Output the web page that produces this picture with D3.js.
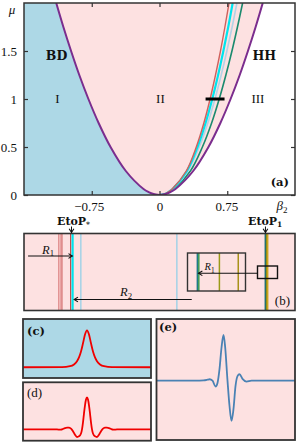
<!DOCTYPE html>
<html><head><meta charset="utf-8">
<script src="https://cdn.jsdelivr.net/npm/d3@7"></script>
<style>
body{margin:0;background:#fff}
svg{display:block}
text{font-family:"Liberation Serif","Times New Roman",serif;fill:#111}
.bold{font-family:"DejaVu Serif",serif;font-weight:bold}
</style>
</head><body>
<svg id="fig" width="299" height="443"></svg>
<script>
// ---------------- DATA ----------------
// panel (a): boundary curves, beta2 value (magnitude) at each mu level
const muLevels   = [0, 0.01, 0.03, 0.0625, 0.25, 0.5, 0.75, 1, 1.25, 1.5, 1.75, 2];
const betaPurple = [0, 0.066, 0.120, 0.177, 0.373, 0.542, 0.674, 0.787, 0.888, 0.979, 1.064, 1.143];
const betaRed    = [0, 0.055, 0.095, 0.140, 0.296, 0.407, 0.491, 0.560, 0.620, 0.675, 0.724, 0.770];
const betaCyan   = [0, 0.057, 0.098, 0.145, 0.304, 0.421, 0.510, 0.584, 0.649, 0.707, 0.761, 0.810];
const betaLBlue  = [0, 0.059, 0.102, 0.150, 0.315, 0.440, 0.535, 0.614, 0.683, 0.746, 0.804, 0.857];
const betaTeal   = [0, 0.062, 0.110, 0.162, 0.342, 0.475, 0.577, 0.661, 0.735, 0.802, 0.863, 0.920];
const barMu = 1, barBeta = [0.51, 0.72];
const xTicks = [-0.75, 0, 0.75];
const xTickLabels = ["\u22120.75", "0", "0.75"];
const yTicks = [0, 0.5, 1, 1.5];
const yTickLabels = ["0", "0.5", "1", "1.5"];
const regionLabels = [
  {t:"BD", b:-1.14, mu:1.41, bold:true},
  {t:"HH", b:1.16, mu:1.41, bold:true},
  {t:"I", b:-1.13, mu:0.96},
  {t:"II", b:0.01, mu:0.96},
  {t:"III", b:1.09, mu:0.96}
];
// panel (b): vertical lines (beta2 positions) and colours
const bLinesBeta  = [-1.114, -1.095, -1.080, -0.984, -0.962, -0.871, 0.192, 1.172, 1.186, 1.197];
const bLinesColor = ["#d46a6a", "#e8a0a0", "#c85050", "#c84848", "#00e4ec", "#a9d3e6", "#a9d3e6", "#1d6f72", "#8a8a14", "#c9a41c"];
const bLinesWidth = [1, 1, 1, 1.2, 2.2, 1.6, 1.6, 1.6, 1.4, 1.6];
const etoPStar = -0.974, etoP1 = 1.173;
const R1 = [-1.455, -0.965], R2 = [0.357, -0.945];
// inset: relative positions
const insetPos   = [0.17, 0.195, 0.55, 0.875];
const insetColor = ["#1d7a8a", "#3a9a50", "#9a9a18", "#a8921a"];
// panel (c)
const tauC = [-32,-12.5,-8.5,-6.5,-5,-4,-3,-2,-1,0,1,2,3,4,5,6.5,8.5,12.5,32];
const ampC = [0,0.004,0.028,0.077,0.163,0.266,0.425,0.648,0.887,1,0.887,0.648,0.425,0.266,0.163,0.077,0.028,0.004,0];
// panel (d)
const tauD = [-32,-18,-15,-13,-12,-11,-10,-9,-8,-7,-6,-5,-4,-3,-2.5,-2,-1.5,-1,-0.5,0,0.5,1,1.5,2,2.5,3,4,5,6,7,8,9,10,11,12,13,15,18,32];
const ampD = [0,0,-0.005,-0.01,0.01,0.04,0.055,0.05,0.02,-0.06,-0.17,-0.24,-0.22,-0.13,0,0.22,0.5,0.75,0.93,1,0.93,0.75,0.5,0.22,0,-0.13,-0.22,-0.24,-0.17,-0.06,0.02,0.05,0.055,0.04,0.01,-0.01,-0.005,0,0];
// panel (e)
const tauE = [-35.5,-16,-12,-10,-9,-7.5,-6,-5,-4,-3,-2,-1.2,0,1,2,3,4,5,6,7.5,9.5,12,16,33.75];
const ampE = [0,0,0.005,0.02,0.03,0,-0.13,-0.05,0.25,0.72,1.0,0.75,0.0,-0.55,-0.88,-0.62,-0.12,0.1,0.14,0.04,-0.02,0,0,0];

// ---------------- STYLE ----------------
const PINK = "#fde1e1", LBLUE = "#add8e6", PURPLE = "#7b2d8e", FRAME = "#333";

const svg = d3.select("#fig");
const defs = svg.append("defs");

// ---------------- PANEL (a) ----------------
const x = d3.scaleLinear().domain([-1.5, 1.5]).range([24, 295]);
const y = d3.scaleLinear().domain([0, 2]).range([195, 3]);
defs.append("clipPath").attr("id","clipA").append("rect")
  .attr("x",x(-1.5)).attr("y",y(2)).attr("width",x(1.5)-x(-1.5)).attr("height",y(0)-y(2));

const pts = arr => muLevels.map((m,i)=>({mu:m, b:arr[i]}));
const P = pts(betaPurple);
const gA = svg.append("g").attr("clip-path","url(#clipA)");
gA.append("rect").attr("x",x(-1.5)).attr("y",y(2)).attr("width",x(1.5)-x(-1.5)).attr("height",y(0)-y(2)).attr("fill","#fff");
const crv = d3.curveCatmullRom.alpha(0.5);
gA.append("path").datum(P).attr("fill",LBLUE)
  .attr("d", d3.area().y(d=>y(d.mu)).x0(x(-1.5)).x1(d=>x(-d.b)).curve(crv));
gA.append("path").datum(P).attr("fill",PINK)
  .attr("d", d3.area().y(d=>y(d.mu)).x0(d=>x(-d.b)).x1(d=>x(d.b)).curve(crv));
const lineR = d3.line().x(d=>x(d.b)).y(d=>y(d.mu)).curve(crv);
const lineL = d3.line().x(d=>x(-d.b)).y(d=>y(d.mu)).curve(crv);
[[betaTeal,"#1b8a6e",1.6],[betaLBlue,"#b3d3e6",1.6],[betaCyan,"#00e5ee",2.2],[betaRed,"#d0605c",1.4]].forEach(([arr,c,w])=>{
  gA.append("path").datum(pts(arr)).attr("fill","none").attr("stroke",c).attr("stroke-width",w).attr("d",lineR);
});
gA.append("path").datum(P).attr("fill","none").attr("stroke",PURPLE).attr("stroke-width",2).attr("d",lineR);
gA.append("path").datum(P).attr("fill","none").attr("stroke",PURPLE).attr("stroke-width",2).attr("d",lineL);
gA.append("line").attr("x1",x(barBeta[0])).attr("x2",x(barBeta[1])).attr("y1",y(barMu)).attr("y2",y(barMu))
  .attr("stroke","#000").attr("stroke-width",3);

// axes
function styleAxis(g){ g.select(".domain").remove(); g.selectAll(".tick line").attr("stroke",FRAME).attr("stroke-width",1.2); }
const axB = svg.append("g").attr("transform",`translate(0,${y(0)})`)
  .call(d3.axisBottom(x).tickValues(xTicks).tickSize(-4).tickPadding(7).tickFormat((d,i)=>xTickLabels[i]));
styleAxis(axB);
axB.selectAll("text").attr("font-size",13).attr("font-family","Liberation Serif").attr("fill","#111")
  .attr("dx",(d)=> d<0 ? -3 : (d>0 ? -1 : 0));
const axT = svg.append("g").attr("transform",`translate(0,${y(2)})`)
  .call(d3.axisTop(x).tickValues(xTicks).tickSize(-4).tickFormat(""));
styleAxis(axT);
const axL = svg.append("g").attr("transform",`translate(${x(-1.5)},0)`)
  .call(d3.axisLeft(y).tickValues(yTicks).tickSize(-4).tickPadding(7).tickFormat((d,i)=>yTickLabels[i]));
styleAxis(axL);
axL.selectAll("text").attr("font-size",13).attr("font-family","Liberation Serif").attr("fill","#111");
const axR = svg.append("g").attr("transform",`translate(${x(1.5)},0)`)
  .call(d3.axisRight(y).tickValues(yTicks).tickSize(-4).tickFormat(""));
styleAxis(axR);
svg.append("rect").attr("x",x(-1.5)).attr("y",y(2)).attr("width",x(1.5)-x(-1.5)).attr("height",y(0)-y(2))
  .attr("fill","none").attr("stroke",FRAME).attr("stroke-width",1.5);

// labels
svg.append("text").attr("x",12).attr("y",14).attr("text-anchor","middle").attr("font-size",13).attr("font-style","italic").text("\u03bc");
const bl = svg.append("text").attr("x",282).attr("y",210).attr("text-anchor","middle").attr("font-size",13).attr("font-style","italic");
bl.append("tspan").text("\u03b2");
bl.append("tspan").attr("font-size",9).attr("font-style","normal").attr("dy",3).text("2");
regionLabels.forEach(r=>{
  svg.append("text").attr("x",x(r.b)).attr("y",y(r.mu)).attr("text-anchor","middle")
    .attr("class", r.bold ? "bold" : null).attr("font-size", r.bold ? 12.5 : 13).text(r.t);
});
svg.append("text").attr("x",289).attr("y",186).attr("text-anchor","end").attr("class","bold").attr("font-size",11.5).text("(a)");

// ---------------- PANEL (b) ----------------
const bTop = 233.5, bBot = 310.5;
defs.append("clipPath").attr("id","clipB").append("rect")
  .attr("x",x(-1.5)).attr("y",bTop).attr("width",x(1.5)-x(-1.5)).attr("height",bBot-bTop);
svg.append("rect").attr("x",x(-1.5)).attr("y",bTop).attr("width",x(1.5)-x(-1.5)).attr("height",bBot-bTop).attr("fill",PINK);
const gB = svg.append("g").attr("clip-path","url(#clipB)");
gB.selectAll("line.v").data(bLinesBeta).join("line").attr("class","v")
  .attr("x1",d=>x(d)).attr("x2",d=>x(d)).attr("y1",bTop).attr("y2",bBot)
  .attr("stroke",(d,i)=>bLinesColor[i]).attr("stroke-width",(d,i)=>bLinesWidth[i]);

function arrow(g, x1, y1, x2, y2, w){
  g.append("line").attr("x1",x1).attr("y1",y1).attr("x2",x2).attr("y2",y2).attr("stroke","#111").attr("stroke-width",w||1.1);
  const a = Math.atan2(y2-y1, x2-x1), L = 4.5, s = 0.55;
  const p = `M${x2-L*Math.cos(a-s)},${y2-L*Math.sin(a-s)} L${x2},${y2} L${x2-L*Math.cos(a+s)},${y2-L*Math.sin(a+s)}`;
  g.append("path").attr("d",p).attr("fill","none").attr("stroke","#111").attr("stroke-width",1.1);
}
// R1, R2
arrow(gB, x(R1[0]), 256, x(R1[1]), 256);
arrow(gB, x(R2[0]), 299.5, x(R2[1]), 299.5);
function rLabel(xp, yp, sub, fs){
  const t = svg.append("text").attr("x",xp).attr("y",yp).attr("font-size",fs).attr("font-style","italic");
  t.append("tspan").text("R");
  t.append("tspan").attr("font-size",fs*0.7).attr("font-style","normal").attr("dy",2.5).text(sub);
}
rLabel(42, 253.5, "1", 12.5);
rLabel(120, 296, "2", 12.5);

// inset
const ix = d3.scaleLinear().domain([0,1]).range([187.5, 245.5]);
const iTop = 253, iBot = 291;
svg.append("rect").attr("x",ix(0)).attr("y",iTop).attr("width",ix(1)-ix(0)).attr("height",iBot-iTop).attr("fill",PINK);
svg.selectAll("line.iv").data(insetPos).join("line").attr("class","iv")
  .attr("x1",d=>ix(d)).attr("x2",d=>ix(d)).attr("y1",iTop).attr("y2",iBot)
  .attr("stroke",(d,i)=>insetColor[i]).attr("stroke-width",1.5);
svg.append("rect").attr("x",ix(0)).attr("y",iTop).attr("width",ix(1)-ix(0)).attr("height",iBot-iTop)
  .attr("fill","none").attr("stroke",FRAME).attr("stroke-width",1.4);
// small zoom box around EtoP1 cluster
const sb = [257.5, 266, 20, 12.5];
arrow(svg, sb[0], 273.3, ix(0.19), 273.3, 1.1);
svg.append("rect").attr("x",sb[0]).attr("y",sb[1]).attr("width",sb[2]).attr("height",sb[3])
  .attr("fill","none").attr("stroke","#111").attr("stroke-width",1.4);
rLabel(204.5, 270, "1", 10.5);

svg.append("rect").attr("x",x(-1.5)).attr("y",bTop).attr("width",x(1.5)-x(-1.5)).attr("height",bBot-bTop)
  .attr("fill","none").attr("stroke",FRAME).attr("stroke-width",1.6);
svg.append("text").attr("x",290).attr("y",305).attr("text-anchor","end").attr("font-size",13).text("(b)");

// EtoP labels
function etop(b, sub, xStart){
  const t = svg.append("text").attr("x",xStart).attr("y",224.5).attr("class","bold").attr("font-size",11);
  t.append("tspan").text("EtoP");
  t.append("tspan").attr("font-size",7.5).attr("dy",2).text(sub);
  arrow(svg, x(b), 226.5, x(b), 232.5, 1);
}
etop(etoPStar, "*", 57);
etop(etoP1, "1", 248);

// ---------------- PANELS (c),(d),(e) ----------------
const xc = d3.scaleLinear().domain([-32,32]).range([23,151]);
function panel(id, x0, x1, y0, y1, fill, xs, ys, tau, amp, color, label, bold, lx, ly){
  defs.append("clipPath").attr("id",id).append("rect").attr("x",x0).attr("y",y0).attr("width",x1-x0).attr("height",y1-y0);
  svg.append("rect").attr("x",x0).attr("y",y0).attr("width",x1-x0).attr("height",y1-y0).attr("fill",fill);
  svg.append("g").attr("clip-path",`url(#${id})`).append("path")
    .datum(tau.map((t,i)=>[t,amp[i]]))
    .attr("fill","none").attr("stroke",color).attr("stroke-width",1.8)
    .attr("d", d3.line().x(d=>xs(d[0])).y(d=>ys(d[1])).curve(d3.curveMonotoneX));
  svg.append("rect").attr("x",x0).attr("y",y0).attr("width",x1-x0).attr("height",y1-y0)
    .attr("fill","none").attr("stroke",FRAME).attr("stroke-width",1.8);
  svg.append("text").attr("x",lx).attr("y",ly).attr("class",bold?"bold":null).attr("font-size",bold?11.5:13).text(label);
}
const ycS = d3.scaleLinear().domain([-0.29,1.305]).range([378,319]);
panel("clipC", 23, 151, 319, 378, LBLUE, xc, ycS, tauC, ampC, "#f00000", "(c)", true, 27, 335);
const ydS = d3.scaleLinear().domain([-0.356,1.47]).range([440.7,382.3]);
panel("clipD", 23, 151, 382.3, 440.7, PINK, xc, ydS, tauD, ampD, "#f00000", "(d)", false, 27, 397);
const xe = d3.scaleLinear().domain([-35.5,33.75]).range([156.5,295]);
const yeS = d3.scaleLinear().domain([-1.3,1.35]).range([440,319]);
panel("clipE", 156.5, 295, 319, 440, PINK, xe, yeS, tauE, ampE, "#4a82b4", "(e)", true, 159, 331);
</script>
</body></html>
